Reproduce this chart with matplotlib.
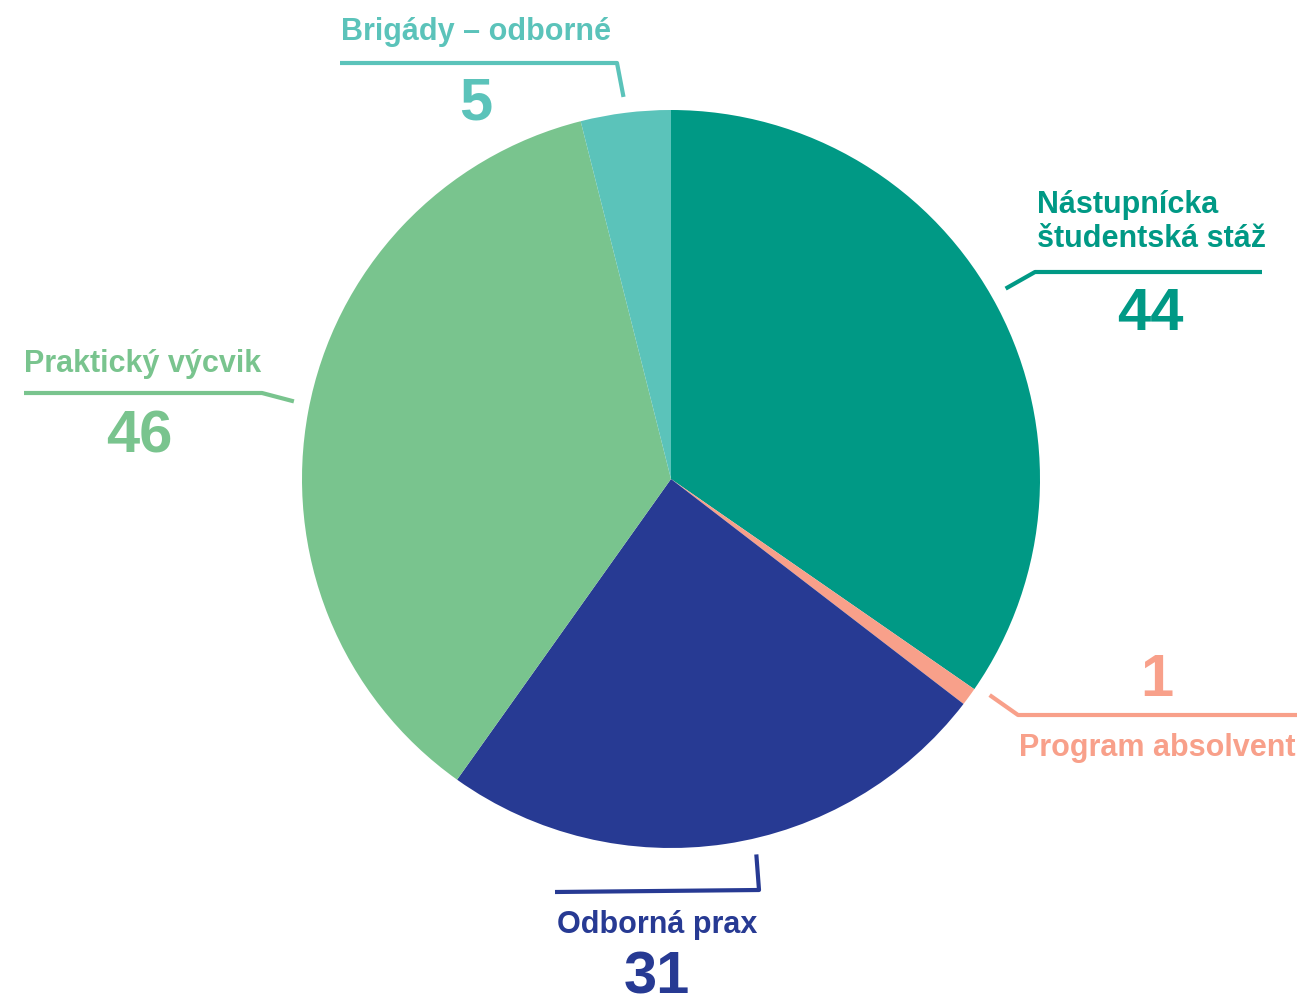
import numpy as np
import matplotlib.pyplot as plt

plt.rcParams['font.family'] = ['Liberation Sans', 'DejaVu Sans']

labels = ['Nástupnícka\nštudentská stáž', 'Program absolvent', 'Odborná prax',
          'Praktický výcvik', 'Brigády – odborné']
values = [44, 1, 31, 46, 5]
colors = ['#009985', '#F8A08A', '#273A93', '#79C48E', '#5BC3BA']

W, H = 1297, 1000
cx, cy, R = 671, 479, 369


def Y(py):
    return H - py


fig = plt.figure(figsize=(12.97, 10), dpi=100)
ax = fig.add_axes([0, 0, 1, 1])

wedges, _ = ax.pie(values, colors=colors, startangle=90, counterclock=False,
                   center=(cx, Y(cy)), radius=R, frame=True,
                   wedgeprops=dict(linewidth=0))
ax.set_xlim(0, W)
ax.set_ylim(0, H)
ax.set_aspect('equal')
ax.axis('off')

# callout layout: angle nudge, elbow points, label/number placement (pixels)
layout = [
    dict(da=2, path=[(1035, 272), (1262, 272)], text=(1037, 222, 'left'), num=(1150, 315)),
    dict(da=2, path=[(1018, 715), (1297, 715)], text=(1157, 748, 'center'), num=(1157, 680)),
    dict(da=4.3, path=[(759, 890), (555, 892)], text=(657, 925, 'center'), num=(657, 978)),
    dict(da=-1, path=[(262, 393), (24, 393)], text=(24, 364, 'left'), num=(139, 437)),
    dict(da=0, path=[(617, 63), (340, 63)], text=(341, 32, 'left'), num=(476, 104)),
]

for w, lab, val, col, lay in zip(wedges, labels, values, colors, layout):
    mid = np.deg2rad((w.theta1 + w.theta2) / 2 + lay['da'])
    sx = cx + 385 * np.cos(mid)
    sy = cy - 385 * np.sin(mid)
    pts = [(sx, sy)] + lay['path']
    ax.plot([p[0] for p in pts], [Y(p[1]) for p in pts], color=col, lw=3,
            solid_capstyle='butt', solid_joinstyle='round')
    tx, ty, ha = lay['text']
    ax.text(tx, Y(ty), lab, color=col, fontsize=22, fontweight='bold',
            ha=ha, va='center', linespacing=1.2)
    nx, ny = lay['num']
    ax.text(nx, Y(ny), str(val), color=col, fontsize=43, fontweight='bold',
            ha='center', va='center')

fig.savefig('out.png', dpi=100)
